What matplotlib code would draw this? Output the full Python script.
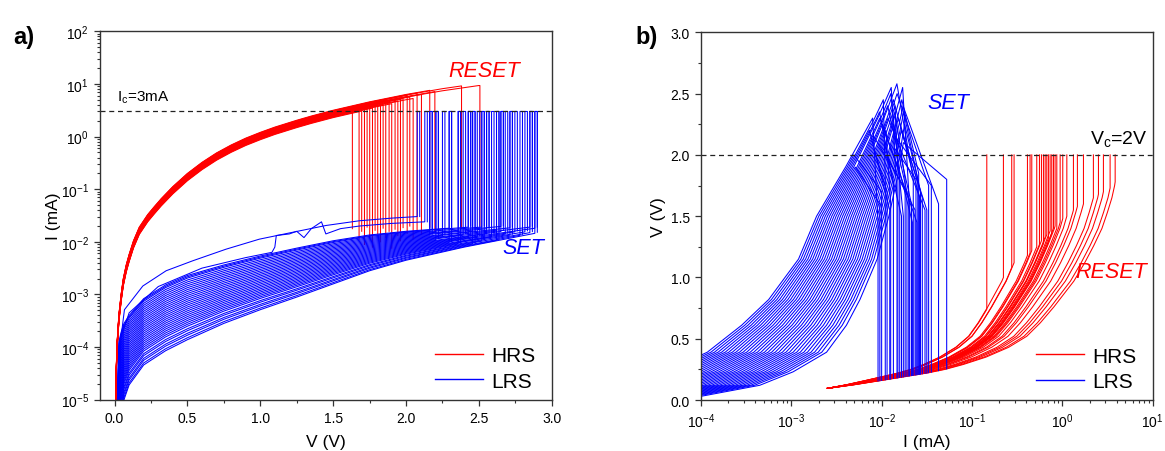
import numpy as np
import matplotlib
matplotlib.use('Agg')
import matplotlib.pyplot as plt
from matplotlib.ticker import MultipleLocator, FormatStrFormatter, LogLocator, NullFormatter
from matplotlib.lines import Line2D

plt.rcParams['font.family'] = ['Liberation Sans', 'DejaVu Sans']
plt.rcParams['mathtext.fontset'] = 'custom'
plt.rcParams['mathtext.rm'] = 'Liberation Sans'
plt.rcParams['mathtext.it'] = 'Liberation Sans:italic'
plt.rcParams['mathtext.bf'] = 'Liberation Sans:bold'

RED = '#ff0000'
BLUE = '#0000ff'

# ---------------- panel a) : I-V (semilog) ----------------
# HRS (red) base curve, log10(I/mA) vs V
hrs_a_v = [0.0, 0.007, 0.016, 0.03, 0.046, 0.06, 0.08, 0.1, 0.13, 0.17, 0.228, 0.27, 0.32,
           0.4, 0.5, 0.6, 0.7, 0.8, 0.9, 1.0, 1.1, 1.25, 1.35, 1.5, 1.75, 2.0, 2.25, 2.5]
hrs_a_logi = [-6.0, -5.0, -4.0, -3.4, -3.0, -2.72, -2.46, -2.26, -2.0, -1.74, -1.5, -1.36,
              -1.2, -0.97, -0.72, -0.51, -0.33, -0.18, -0.05, 0.06, 0.16, 0.29, 0.37, 0.48,
              0.64, 0.78, 0.9, 1.0]
# RESET voltages, log-offsets and bottom of the drop for each red cycle
reset_a_v = [1.632, 1.678, 1.696, 1.715, 1.733, 1.751, 1.770, 1.788, 1.806, 1.825, 1.843,
             1.861, 1.884, 1.902, 1.925, 1.944, 1.962, 1.980, 2.008, 2.026, 2.049, 2.076,
             2.106, 2.163, 2.198, 2.381, 2.507]
reset_a_off = [-0.10, -0.06, -0.12, -0.03, -0.08, -0.05, -0.11, -0.02, -0.07, -0.04, -0.09,
               -0.01, -0.06, -0.10, -0.03, -0.07, -0.02, -0.05, 0.00, -0.04, -0.08, 0.01,
               -0.03, 0.02, -0.02, 0.01, -0.03]
reset_a_end = [-1.75, -1.95, -1.80, -2.05, -1.72, -1.90, -2.10, -1.78, -1.85, -2.00, -1.74,
               -1.92, -1.80, -2.12, -1.76, -1.88, -1.98, -1.73, -1.84, -1.70, -1.95, -1.78,
               -1.86, -1.72, -1.80, -1.75, -1.70]

# LRS (blue) envelope curves, log10(I/mA) on a common V grid
lrs_a_v = [0.0, 0.02, 0.03, 0.045, 0.065, 0.1, 0.2, 0.35, 0.5, 0.75, 1.0, 1.25, 1.5,
           1.75, 2.0, 2.4, 2.9]
lrs_a_lo = [-6.5, -6.0, -5.7, -5.35, -5.0, -4.72, -4.34, -4.07, -3.86, -3.55, -3.29,
            -3.05, -2.8, -2.55, -2.35, -2.1, -1.83]
lrs_a_hi = [-6.0, -5.0, -3.9, -3.72, -3.55, -3.4, -3.08, -2.82, -2.64, -2.44, -2.27,
            -2.12, -1.98, -1.87, -1.8, -1.72, -1.62]
# position of each cycle inside the band (0 = lower edge, 1 = upper edge) and its SET voltage
set_a_frac = [0.00, 0.03, 0.07, 0.10, 0.14, 0.17, 0.21, 0.24, 0.27, 0.30, 0.33, 0.36,
              0.39, 0.42, 0.45, 0.48, 0.51, 0.54, 0.57, 0.60, 0.63, 0.66, 0.69, 0.72,
              0.75, 0.78, 0.81, 0.84, 0.87, 0.90, 0.93, 0.96, 0.98, 1.00]
set_a_v = [2.884, 2.621, 2.782, 2.457, 2.850, 2.520, 2.713, 2.358, 2.816, 2.587, 2.681,
           2.296, 2.747, 2.489, 2.884, 2.427, 2.553, 2.651, 2.205, 2.850, 2.392, 2.621,
           2.250, 2.713, 2.457, 2.163, 2.553, 2.358, 2.651, 2.205, 2.520, 2.163, 2.427,
           2.296]
# two irregular LRS cycles (upper outliers)
out1_v = [0.03, 0.045, 0.068, 0.194, 0.354, 0.537, 0.765, 0.993, 1.22, 1.45, 1.68, 1.9, 2.077]
out1_logi = [-5.0, -3.8, -3.29, -2.84, -2.55, -2.36, -2.14, -1.95, -1.82, -1.69, -1.6,
             -1.55, -1.52]
out2_v = [0.025, 0.035, 0.1, 0.3, 0.6, 0.9, 1.08, 1.1, 1.11, 1.2, 1.25, 1.3, 1.35, 1.42,
          1.45, 1.55, 1.68, 1.9, 2.129]
out2_logi = [-5.0, -3.9, -3.35, -2.85, -2.5, -2.3, -2.2, -2.1, -1.88, -1.85, -1.8, -1.92,
             -1.75, -1.62, -1.85, -1.75, -1.7, -1.65, -1.62]
ic_log = np.log10(3.0)

# ---------------- panel b) : V-I (current sweep) ----------------
red_b_logi = [-2.6, -2.3, -2.0, -1.75, -1.5, -1.3, -1.1, -0.85, -0.6, -0.4, -0.25, -0.1,
              0.12, 0.24, 0.34, 0.43, 0.49, 0.54, 0.57, 0.6]
red_b_v = [0.095, 0.125, 0.16, 0.19, 0.22, 0.25, 0.29, 0.35, 0.43, 0.52, 0.63, 0.76,
           0.97, 1.12, 1.26, 1.4, 1.53, 1.65, 1.75, 1.9]
reset_b_logi = [-0.836, -0.652, -0.56, -0.534, -0.386, -0.357, -0.338, -0.283, -0.253,
                -0.231, -0.209, -0.19, -0.172, -0.154, -0.135, -0.117, -0.098, -0.08,
                -0.061, -0.024, 0.005, 0.05, 0.123, 0.167, 0.234, 0.344, 0.4, 0.455,
                0.529, 0.585]
reset_b_v = [0.74, 1.0, 1.08, 1.12, 1.18, 1.2, 1.22, 1.25, 1.27, 1.3, 1.28, 1.33, 1.35,
             1.32, 1.38, 1.36, 1.4, 1.42, 1.4, 1.45, 1.48, 1.5, 1.55, 1.58, 1.6, 1.65,
             1.68, 1.7, 1.73, 1.78]

blue_b_v = [0.0, 0.03, 0.12, 0.23, 0.39, 0.61, 0.82, 1.15, 1.5, 1.9, 2.3, 2.6]
blue_b_lo = [-4.6, -4.0, -3.35, -2.98, -2.61, -2.39, -2.24, -2.05, -1.92, -1.8, -1.72, -1.66]
blue_b_hi = [-6.0, -5.4, -4.8, -4.4, -3.93, -3.55, -3.25, -2.92, -2.72, -2.4, -2.1, -1.9]
set_b_frac = [1.00, 0.97, 0.94, 0.91, 0.88, 0.85, 0.82, 0.79, 0.76, 0.73, 0.70, 0.67,
              0.64, 0.61, 0.58, 0.55, 0.52, 0.49, 0.46, 0.43, 0.40, 0.37, 0.34, 0.31,
              0.28, 0.25, 0.22, 0.19, 0.16, 0.13, 0.10, 0.07, 0.04, 0.00]
set_b_peak = [2.30, 2.00, 2.45, 2.20, 2.35, 2.55, 1.90, 2.30, 2.50, 2.15, 2.40, 2.58,
              2.25, 2.05, 2.45, 2.30, 2.50, 2.20, 2.40, 2.10, 2.35, 2.55, 2.25, 2.00,
              2.45, 2.30, 2.15, 2.40, 2.05, 2.35, 2.20, 1.95, 2.25, 2.10]
set_b_endlogi = [-2.04, -2.00, -1.96, -1.91, -1.87, -1.83, -2.02, -1.80, -1.76, -1.72,
                 -1.69, -1.65, -1.61, -1.94, -1.58, -1.52, -1.48, -1.90, -1.82, -1.78,
                 -1.74, -1.70, -1.67, -1.63, -1.59, -1.55, -1.45, -1.37, -1.62, -1.57,
                 -1.50, -1.66, -1.60, -1.28]
set_b_endv = [1.45, 1.70, 1.80, 1.55, 1.75, 1.65, 1.60, 1.85, 1.50, 1.70, 1.60, 1.80,
              1.45, 1.70, 1.65, 1.55, 1.75, 1.60, 1.90, 1.50, 1.80, 1.70, 1.60, 1.55,
              1.85, 1.65, 1.75, 1.60, 1.80, 1.70, 1.55, 1.45, 1.80, 1.80]
vc = 2.0

LW = 0.75

fig = plt.figure(figsize=(11.65, 4.52), dpi=100)
ax1 = fig.add_axes([0.0858, 0.1135, 0.3878, 0.815])
ax2 = fig.add_axes([0.6017, 0.1128, 0.3877, 0.8135])

# ---- panel a drawing
hv = np.array(hrs_a_v)
hl = np.array(hrs_a_logi)
for vr, off, le in zip(reset_a_v, reset_a_off, reset_a_end):
    m = hv < vr
    top = np.interp(vr, hv, hl) + off
    xs = np.concatenate([hv[m], [vr, vr]])
    ys = np.concatenate([hl[m] + off, [top, le]])
    ax1.plot(xs, 10.0 ** ys, color=RED, lw=LW)

lv = np.array(lrs_a_v)
lo = np.array(lrs_a_lo)
hi = np.array(lrs_a_hi)
PW = 0.017
for f, vs in zip(set_a_frac, set_a_v):
    curve = lo + f * (hi - lo)
    m = lv < vs
    yend = np.interp(vs, lv, curve)
    xs = np.concatenate([lv[m], [vs, vs, vs + PW, vs + PW]])
    ys = np.concatenate([curve[m], [yend, ic_log, ic_log, yend + 0.02]])
    ax1.plot(xs, 10.0 ** ys, color=BLUE, lw=LW)
for ov, ol in ((out1_v, out1_logi), (out2_v, out2_logi)):
    vs = ov[-1]
    xs = list(ov) + [vs, vs + PW, vs + PW]
    ys = list(ol) + [ic_log, ic_log, ol[-1]]
    ax1.plot(xs, 10.0 ** np.array(ys), color=BLUE, lw=LW)

ax1.axhline(3.0, color='#222222', lw=0.9, ls=(0, (4, 3)))
ax1.set_yscale('log')
ax1.set_xlim(-0.1, 3.0)
ax1.set_ylim(1e-5, 1e2)
ax1.xaxis.set_major_locator(MultipleLocator(0.5))
ax1.xaxis.set_minor_locator(MultipleLocator(0.25))
ax1.xaxis.set_major_formatter(FormatStrFormatter('%.1f'))
ax1.yaxis.set_major_locator(LogLocator(base=10, numticks=20))
ax1.yaxis.set_minor_locator(LogLocator(base=10, subs=np.arange(2, 10), numticks=20))
ax1.yaxis.set_minor_formatter(NullFormatter())
ax1.set_xlabel('V (V)', fontsize=12.5, va='center')
ax1.set_ylabel('I (mA)', fontsize=12.5, va='center')
ax1.xaxis.set_label_coords(0.5, -0.114)
ax1.yaxis.set_label_coords(-0.102, 0.5)
ax1.text(0.02, 10 ** 0.68, r'I$_\mathregular{c}$=3mA', fontsize=11, ha='left', va='baseline')
ax1.text(2.29, 10 ** 1.145, 'RESET', fontsize=15.5, style='italic', color=RED,
         ha='left', va='baseline')
ax1.text(2.66, 10 ** -2.21, 'SET', fontsize=15.5, style='italic', color=BLUE,
         ha='left', va='baseline')

# ---- panel b drawing
rbl = np.array(red_b_logi)
rbv = np.array(red_b_v)
for xr, vj in zip(reset_b_logi, reset_b_v):
    yinv = np.interp(vj, rbv, rbl)
    s = (yinv + 2.6) / (xr + 2.6)
    xx = -2.6 + (rbl + 2.6) / s
    m = xx < xr
    xs = np.concatenate([xx[m], [xr, xr]])
    ys = np.concatenate([rbv[m], [vj, vc]])
    ax2.plot(10.0 ** xs, ys, color=RED, lw=LW)

bv = np.array(blue_b_v)
blo = np.array(blue_b_lo)
bhi = np.array(blue_b_hi)
for f, vp, xe, ve in zip(set_b_frac, set_b_peak, set_b_endlogi, set_b_endv):
    xcurve = blo + f * (bhi - blo)
    m = bv < vp
    xp = np.interp(vp, bv, xcurve)
    vbot = np.interp(xe, rbl, rbv)
    xs = np.concatenate([xcurve[m], [xp, xe, xe]])
    ys = np.concatenate([bv[m], [vp, ve, vbot]])
    ax2.plot(10.0 ** xs, ys, color=BLUE, lw=LW)

ax2.axhline(vc, color='#222222', lw=0.9, ls=(0, (4, 3)))
ax2.set_xscale('log')
ax2.set_xlim(1e-4, 1e1)
ax2.set_ylim(0, 3.0)
ax2.yaxis.set_major_locator(MultipleLocator(0.5))
ax2.yaxis.set_minor_locator(MultipleLocator(0.25))
ax2.yaxis.set_major_formatter(FormatStrFormatter('%.1f'))
ax2.xaxis.set_major_locator(LogLocator(base=10, numticks=20))
ax2.xaxis.set_minor_locator(LogLocator(base=10, subs=np.arange(2, 10), numticks=20))
ax2.xaxis.set_minor_formatter(NullFormatter())
ax2.set_xlabel('I (mA)', fontsize=12.5, va='center')
ax2.set_ylabel('V (V)', fontsize=12.5, va='center')
ax2.xaxis.set_label_coords(0.5, -0.112)
ax2.yaxis.set_label_coords(-0.095, 0.5)
ax2.text(10 ** -1.497, 2.38, 'SET', fontsize=15.5, style='italic', color=BLUE,
         ha='left', va='baseline')
ax2.text(10 ** 0.308, 2.10, r'V$_\mathregular{c}$=2V', fontsize=14, ha='left', va='baseline')
ax2.text(10 ** 0.147, 1.003, 'RESET', fontsize=15.5, style='italic', color=RED,
         ha='left', va='baseline')

for ax in (ax1, ax2):
    for sp in ax.spines.values():
        sp.set_linewidth(1.0)
        sp.set_color('#333333')
    ax.tick_params(which='major', direction='out', length=4.5, width=0.9, labelsize=10,
                   top=False, right=False, color='#333333')
    ax.tick_params(which='minor', direction='out', length=2.5, width=0.8,
                   top=False, right=False, color='#333333')
    handles = [Line2D([], [], color=RED, lw=1.0), Line2D([], [], color=BLUE, lw=1.0)]
    ax.legend(handles, ['HRS', 'LRS'], loc='lower right', bbox_to_anchor=(0.978, 0.008),
              frameon=False, fontsize=15, handlelength=2.3, handletextpad=0.4,
              labelspacing=0.3, borderaxespad=0.1, borderpad=0.2)

fig.text(13 / 1165, 1 - 44 / 452, 'a)', fontsize=17, fontweight='bold', va='baseline')
fig.text(635 / 1165, 1 - 44 / 452, 'b)', fontsize=17, fontweight='bold', va='baseline')

fig.savefig('out.png', dpi=100)
